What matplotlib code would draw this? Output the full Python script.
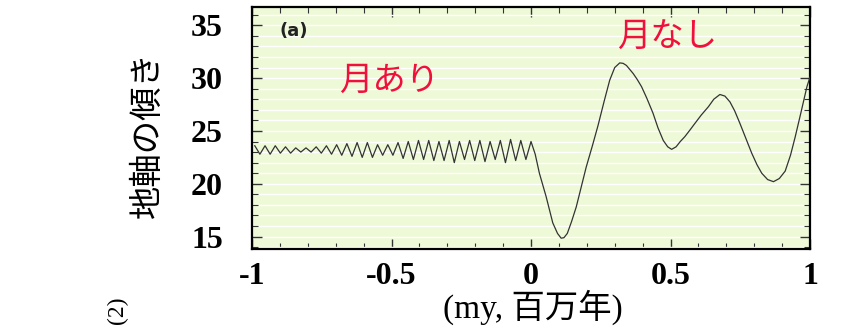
import numpy as np
import matplotlib
matplotlib.use("Agg")
import matplotlib.pyplot as plt
from matplotlib.ticker import MultipleLocator

# obliquity with the Moon (-1 .. 0 My): alternating peak / trough values
peaks = [23.6, 23.6, 23.6, 23.5, 23.4, 23.4, 23.5, 23.6, 23.7, 23.8, 23.9, 23.9, 23.7, 23.7,
         23.9, 24.0, 24.1, 24.1, 24.0, 24.1, 24.0, 24.1, 24.1, 24.0, 24.1, 24.2, 24.1, 24.0]
troughs = [22.8, 22.8, 22.9, 22.9, 23.0, 23.0, 22.9, 22.8, 22.7, 22.6, 22.5, 22.5, 22.7, 22.7,
           22.4, 22.3, 22.3, 22.2, 22.2, 22.0, 22.3, 22.2, 22.1, 22.3, 22.0, 22.2, 22.3]

# obliquity without the Moon (0 .. 1 My)
t_nomoon = [0.015, 0.03, 0.054, 0.078, 0.095, 0.108, 0.118, 0.13, 0.145, 0.162, 0.18, 0.198,
            0.22, 0.24, 0.262, 0.282, 0.30, 0.318, 0.33, 0.342, 0.366, 0.38, 0.396, 0.415,
            0.437, 0.455, 0.474, 0.49, 0.504, 0.52, 0.535, 0.551, 0.57, 0.587, 0.61, 0.636,
            0.655, 0.677, 0.695, 0.713, 0.73, 0.749, 0.77, 0.791, 0.81, 0.827, 0.848, 0.869,
            0.89, 0.911, 0.93, 0.947, 0.968, 0.989, 1.0]
y_nomoon = [22.8, 21.0, 18.8, 16.3, 15.3, 14.85, 14.9, 15.3, 16.4, 17.8, 19.7, 21.6,
            23.6, 25.5, 27.8, 29.8, 31.0, 31.44, 31.4, 31.2, 30.44, 29.9, 29.2, 28.1,
            26.7, 25.3, 24.1, 23.5, 23.26, 23.5, 24.0, 24.45, 25.1, 25.7, 26.5, 27.3,
            28.0, 28.45, 28.3, 27.75, 26.9, 25.7, 24.3, 22.9, 21.8, 21.0, 20.4, 20.2,
            20.5, 21.2, 22.7, 24.45, 26.8, 29.2, 30.1]

xticks = [-1, -0.5, 0, 0.5, 1]
xtick_labels = ["-1", "-0.5", "0", "0.5", "1"]
yticks = [15, 20, 25, 30, 35]

# build the moon part: peak, trough, peak, ... ending on a peak at t=0
y_moon = []
for i in range(len(troughs)):
    y_moon += [peaks[i], troughs[i]]
y_moon.append(peaks[-1])
t_moon = np.linspace(-0.99, 0.0, len(y_moon))

t_all = list(t_moon) + t_nomoon
y_all = y_moon + y_nomoon

fig = plt.figure(figsize=(8.54, 3.27), dpi=100)
ax = fig.add_axes([0.2951, 0.2376, 0.6534, 0.740])
ax.set_facecolor("#EEF9D8")

ax.plot(t_all, y_all, color="#333333", lw=0.9, zorder=3, solid_joinstyle="round")

ax.set_xlim(-1, 1)
ax.set_ylim(13.8, 36.7)

ax.set_xticks(xticks)
ax.set_xticklabels(xtick_labels)
ax.set_yticks(yticks)
ax.xaxis.set_minor_locator(MultipleLocator(0.1))
ax.yaxis.set_minor_locator(MultipleLocator(1))

# white horizontal stripes
ax.grid(which="both", axis="y", color="white", lw=1.0, zorder=1)
ax.set_axisbelow(True)

for s in ax.spines.values():
    s.set_linewidth(1.6)
    s.set_color("black")

ax.tick_params(which="both", direction="in", top=True, right=True, color="#333333")
ax.tick_params(which="major", length=7, width=1.0)
ax.tick_params(which="minor", length=4, width=0.8)
ax.tick_params(axis="y", which="major", pad=21)
ax.tick_params(axis="x", which="major", pad=9)
for lab in ax.get_xticklabels() + ax.get_yticklabels():
    lab.set_family("Liberation Serif")
    lab.set_fontweight("bold")
    lab.set_fontsize(23)

serif_cjk = ["Liberation Serif", "Noto Sans CJK JP"]
fig.text(0.172, 0.59, "地軸の傾き", rotation=90, ha="center", va="center",
         fontsize=24, family=["Noto Sans CJK JP", "DejaVu Sans"])
fig.text(0.624, 0.06, "(my, 百万年)", ha="center", va="center",
         fontsize=24, family=serif_cjk)
fig.text(0.137, 0.01, "(2)", rotation=90, ha="center", va="bottom",
         fontsize=17, family="Liberation Serif")

ax.text(0.05, 0.88, "(a)", transform=ax.transAxes, fontsize=13,
        fontweight="bold", family="DejaVu Sans", color="#222222")
ax.text(0.246, 0.70, "月あり", transform=ax.transAxes, fontsize=24,
        color="#F0103C", family=["Noto Sans CJK JP", "DejaVu Sans"],
        ha="center", va="center")
ax.text(0.744, 0.875, "月なし", transform=ax.transAxes, fontsize=24,
        color="#F0103C", family=["Noto Sans CJK JP", "DejaVu Sans"],
        ha="center", va="center")

fig.savefig("out.png", dpi=100)
